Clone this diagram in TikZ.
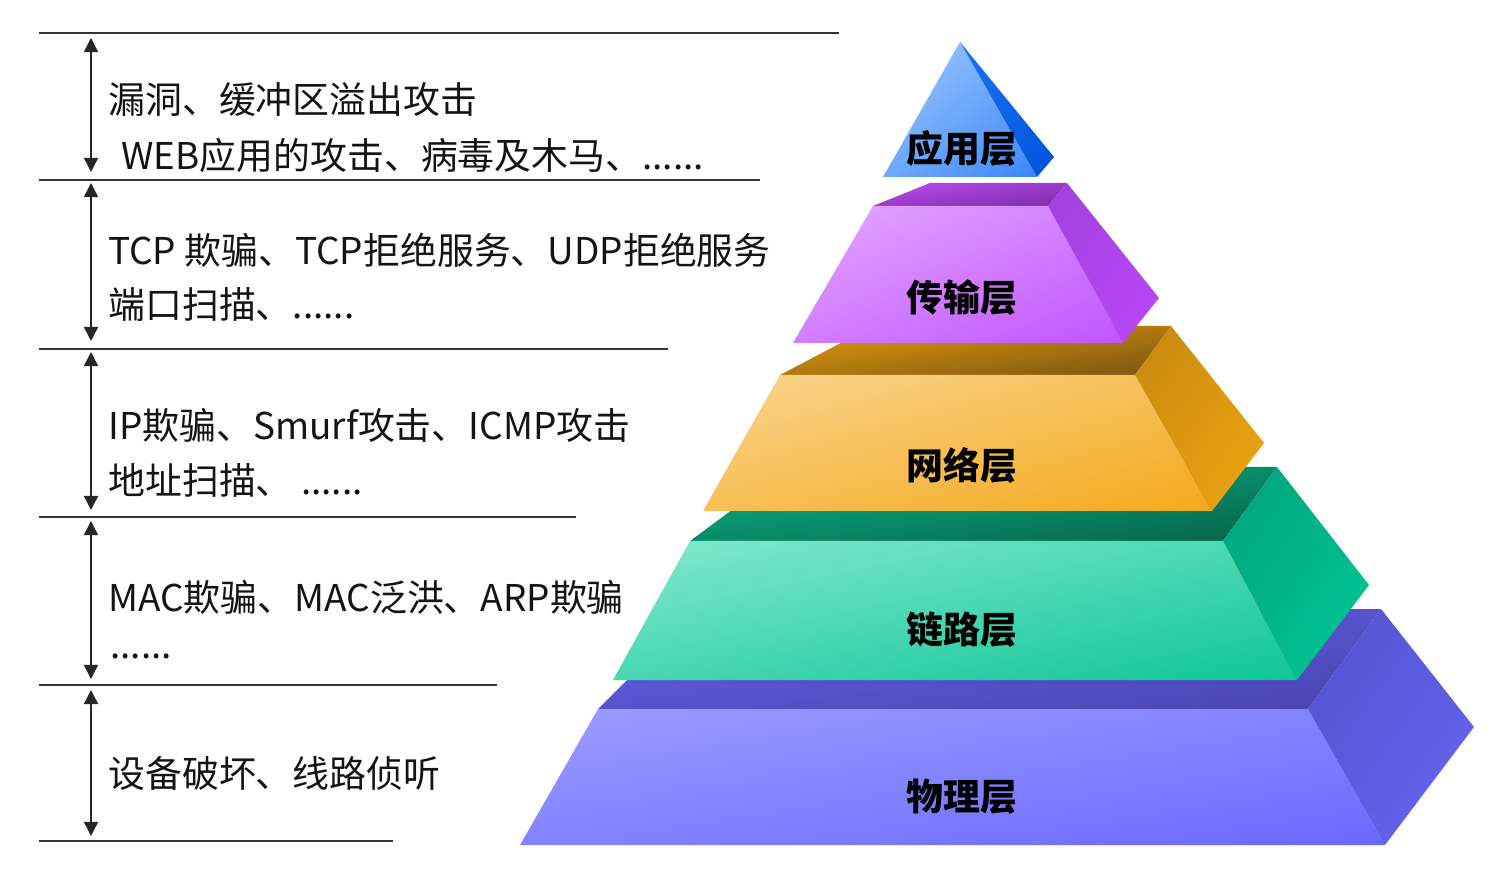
\documentclass[tikz,border=0pt]{standalone}
\usepackage{fontspec}
\setmainfont{Noto Sans CJK SC}
\usetikzlibrary{arrows.meta,shadings}

\definecolor{aplF1}{HTML}{A4CCFF}\definecolor{aplF2}{HTML}{3A86F6}
\definecolor{aplS1}{HTML}{1A74F2}\definecolor{aplS2}{HTML}{0052DC}
\definecolor{traF1}{HTML}{E4A8FF}\definecolor{traF2}{HTML}{C055FF}
\definecolor{traT1}{HTML}{B84CF0}\definecolor{traT2}{HTML}{7E2CA8}
\definecolor{traS1}{HTML}{A040DC}\definecolor{traS2}{HTML}{BC48FA}
\definecolor{redF1}{HTML}{F9D590}\definecolor{redF2}{HTML}{F3A91C}
\definecolor{redT1}{HTML}{E6A00C}\definecolor{redT2}{HTML}{7A5212}
\definecolor{redS1}{HTML}{C6880E}\definecolor{redS2}{HTML}{F0A612}
\definecolor{enlF1}{HTML}{84E8CE}\definecolor{enlF2}{HTML}{0EC696}
\definecolor{enlT1}{HTML}{0CB486}\definecolor{enlT2}{HTML}{06634A}
\definecolor{enlS1}{HTML}{03A27A}\definecolor{enlS2}{HTML}{00C898}
\definecolor{fisF1}{HTML}{9C9CFF}\definecolor{fisF2}{HTML}{6A68FF}
\definecolor{fisT1}{HTML}{6462EA}\definecolor{fisT2}{HTML}{4844B0}
\definecolor{fisS1}{HTML}{5252CC}\definecolor{fisS2}{HTML}{6666F4}

\begin{document}
\begin{tikzpicture}[>={Triangle[width=8pt,length=8pt]},
    x={(0.02cm,0cm)}, y={(0cm,-0.02cm)},
    face/.style 2 args={upper left=#1, lower right=#2,
      upper right=#1!50!#2, lower left=#1!50!#2},
    attack/.style={anchor=west, inner sep=0pt, text=black!92,
      font=\fontsize{21pt}{25pt}\selectfont},
    layer/.style={inner sep=0pt, font=\fontsize{21pt}{25pt}\selectfont\bfseries}]
  \useasboundingbox (0,0) rectangle (1507,884);

  % Lineas
  \foreach \yl/\xe [count=\i] in {33/839,180/760,349/668,517/576,685/497,841/393}{
    \coordinate (l\i a) at (39,\yl);
    \coordinate (l\i b) at (\xe,\yl);
    \draw[line width=0.8pt, black!80] (l\i a) -- (l\i b);
  }
  % Flechas
  \foreach \ya/\yb [count=\i] in {38/172,183/341,352/510,521/679,690/836}{
    \coordinate (p\i) at (91,\ya);
    \coordinate (q\i) at (91,\yb);
    \draw[<->, line width=0.8pt, black!85] (p\i) -- (q\i);
  }

  % Capa fisica
  \shade[face={fisT1}{fisT2}] (598,709)--(698,609)--(1381,609)--(1308,709)--cycle;
  \shade[face={fisF1}{fisF2}] (598,709)--(1308,709)--(1385,845)--(520,845)--cycle;
  \shade[face={fisS1}{fisS2}] (1308,709)--(1381,609)--(1474,727)--(1385,845)--cycle;
  % Capa de enlace
  \shade[face={enlT1}{enlT2}] (690,541)--(790,467)--(1277,467)--(1223,541)--cycle;
  \shade[face={enlF1}{enlF2}] (690,541)--(1223,541)--(1297,680)--(613,680)--cycle;
  \shade[face={enlS1}{enlS2}] (1223,541)--(1277,467)--(1369,585)--(1297,680)--cycle;
  % Capa de red
  \shade[face={redT1}{redT2}] (780,375)--(873,326)--(1171,326)--(1135,375)--cycle;
  \shade[face={redF1}{redF2}] (780,375)--(1135,375)--(1212,511)--(703,511)--cycle;
  \shade[face={redS1}{redS2}] (1135,375)--(1171,326)--(1264,443)--(1212,511)--cycle;
  % Capa de transporte
  \shade[face={traT1}{traT2}] (873,206)--(930,183)--(1067,183)--(1048,206)--cycle;
  \shade[face={traF1}{traF2}] (873,206)--(1048,206)--(1123,343)--(793,343)--cycle;
  \shade[face={traS1}{traS2}] (1048,206)--(1067,183)--(1159,298)--(1123,343)--cycle;
  % Capa de aplicacion
  \shade[face={aplF1}{aplF2}] (960,42)--(1037,177)--(883,177)--cycle;
  \shade[face={aplS1}{aplS2}] (960,42)--(1054,157)--(1037,177)--cycle;

  % Nombres de capas
  \node[layer] (apl) at (962,148) {应用层};
  \node[layer] (tra) at (962,298) {传输层};
  \node[layer] (red) at (962,465) {网络层};
  \node[layer] (enl) at (962,630) {链路层};
  \node[layer] (fis) at (962,797) {物理层};

  % Ataques
  \node[attack] (t1a) at (108,100) {漏洞、缓冲区溢出攻击};
  \node[attack] (t1b) at (121,155) {WEB应用的攻击、病毒及木马、......};
  \node[attack] (t2a) at (108,250) {TCP 欺骗、TCP拒绝服务、UDP拒绝服务};
  \node[attack] (t2b) at (108,305) {端口扫描、......};
  \node[attack] (t3a) at (108,425) {IP欺骗、Smurf攻击、ICMP攻击};
  \node[attack] (t3b) at (108,480) {地址扫描、 ......};
  \node[attack] (t4a) at (108,597) {MAC欺骗、MAC泛洪、ARP欺骗};
  \node[attack] (t4b) at (110,656) {......};
  \node[attack] (t5a) at (108,773) {设备破坏、线路侦听};
\end{tikzpicture}
\end{document}
